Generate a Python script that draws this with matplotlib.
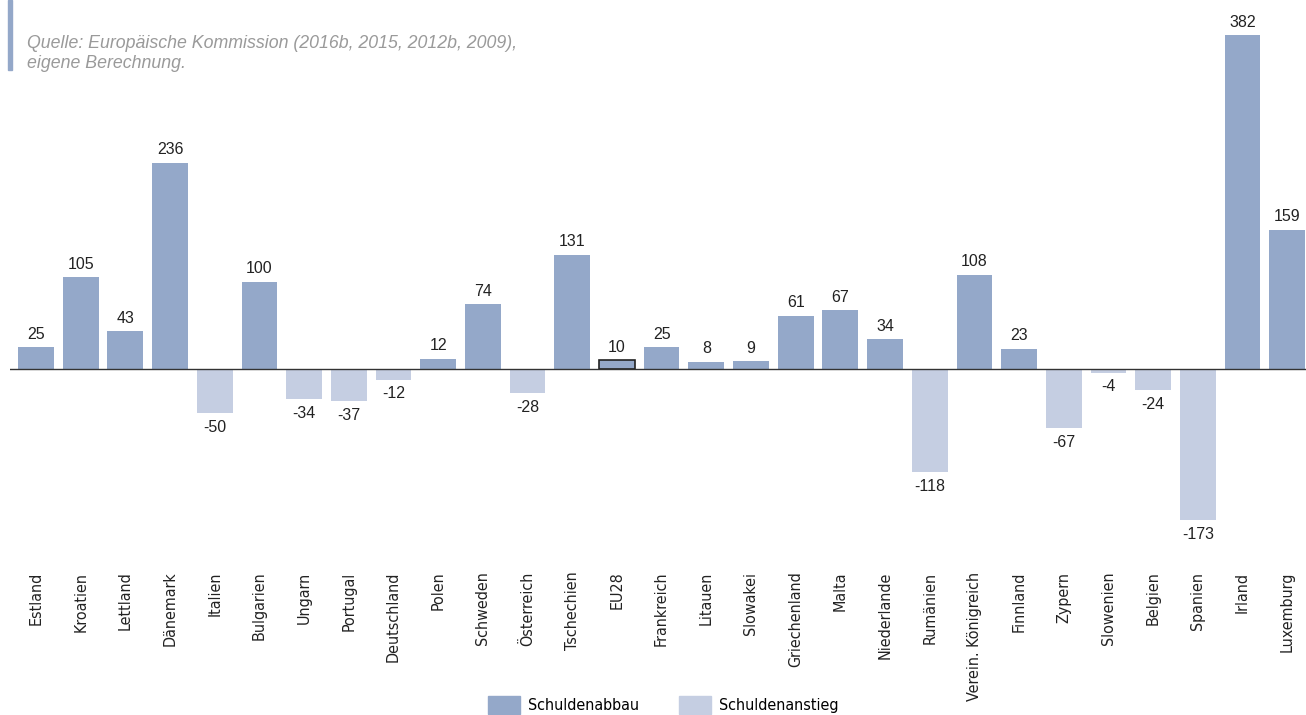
import matplotlib.pyplot as plt
from matplotlib.patches import Patch, Rectangle
from matplotlib import font_manager

laender = ['Estland', 'Kroatien', 'Lettland', 'Dänemark', 'Italien', 'Bulgarien',
           'Ungarn', 'Portugal', 'Deutschland', 'Polen', 'Schweden', 'Österreich',
           'Tschechien', 'EU28', 'Frankreich', 'Litauen', 'Slowakei', 'Griechenland',
           'Malta', 'Niederlande', 'Rumänien', 'Verein. Königreich', 'Finnland',
           'Zypern', 'Slowenien', 'Belgien', 'Spanien', 'Irland', 'Luxemburg']
werte = [25, 105, 43, 236, -50, 100, -34, -37, -12, 12, 74, -28, 131, 10, 25, 8, 9,
         61, 67, 34, -118, 108, 23, -67, -4, -24, -173, 382, 159]
legende = ['Schuldenabbau', 'Schuldenanstieg']

dunkel = '#94a8c9'
hell = '#c5cee2'

plt.rcParams['font.family'] = ['Liberation Sans', 'DejaVu Sans']

# schmale Schrift fuer die Laendernamen, falls vorhanden
namen = {f.name for f in font_manager.fontManager.ttflist}
if 'Liberation Sans Narrow' in namen:
    schmal = dict(family='Liberation Sans Narrow', size=14)
else:
    schmal = dict(family='DejaVu Sans', stretch='condensed', size=11.5)

fig = plt.figure(figsize=(13.06, 7.15), dpi=100)
ax = fig.add_axes([0.0077, 0.2394, 0.9923, 0.7335])

x = list(range(len(laender)))
farben = [dunkel if w >= 0 else hell for w in werte]
bars = ax.bar(x, werte, width=0.8, color=farben, zorder=2)
eu = laender.index('EU28')
bars[eu].set_edgecolor('#222222')
bars[eu].set_linewidth(1.2)

for i, w in enumerate(werte):
    if w >= 0:
        ax.annotate(str(w), (i, w), xytext=(0, 4), textcoords='offset points',
                    ha='center', va='bottom', fontsize=11.5, color='#222222')
    else:
        ax.annotate(str(w), (i, w), xytext=(0, -5), textcoords='offset points',
                    ha='center', va='top', fontsize=11.5, color='#222222')

ax.axhline(0, color='#333333', linewidth=1.0, zorder=3)
ax.set_xlim(-0.58, 28.42)
ax.set_ylim(-200, 400)
ax.set_yticks([])
ax.set_xticks(x)
ax.set_xticklabels(laender, rotation=90, va='top', ha='center',
                   fontproperties=font_manager.FontProperties(**schmal),
                   color='#222222')
ax.tick_params(axis='x', length=0, pad=20)
for s in ax.spines.values():
    s.set_visible(False)

fig.text(0.0207, 1 - 44 / 715, 'Quelle: Europäische Kommission (2016b, 2015, 2012b, 2009),',
         fontsize=12.8, style='italic', color='#9a9a9a', va='center')
fig.text(0.0207, 1 - 63 / 715, 'eigene Berechnung.',
         fontsize=12.8, style='italic', color='#9a9a9a', va='center')
fig.patches.append(Rectangle((0.0061, 1 - 70 / 715), 0.0031, 70 / 715,
                             transform=fig.transFigure, color=dunkel))

handles = [Patch(color=dunkel), Patch(color=hell)]
fig.legend(handles, legende, loc='center', bbox_to_anchor=(0.508, 1 - 705 / 715),
           ncol=2, frameon=False, handlelength=2.0, handleheight=1.35,
           columnspacing=2.5, handletextpad=0.5,
           prop=font_manager.FontProperties(**schmal))

fig.savefig('out.png', dpi=100)
